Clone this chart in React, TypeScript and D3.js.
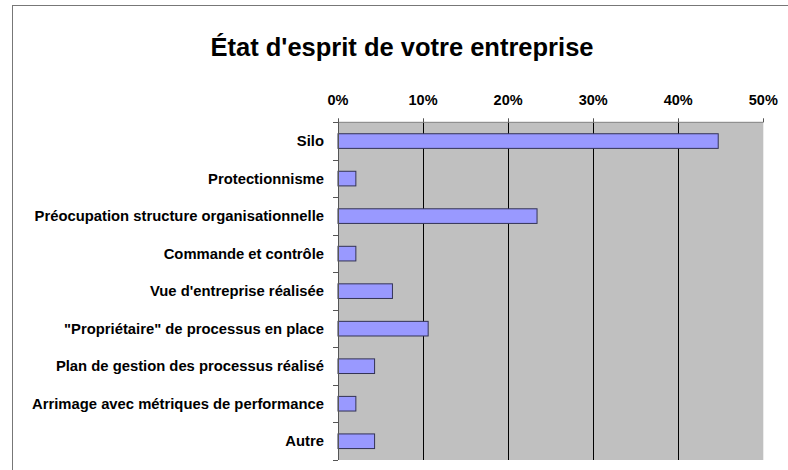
import React from "react";
import * as d3 from "d3";

const categories = [
  "Silo",
  "Protectionnisme",
  "Préocupation structure organisationnelle",
  "Commande et contrôle",
  "Vue d'entreprise réalisée",
  "\"Propriétaire\" de processus en place",
  "Plan de gestion des processus réalisé",
  "Arrimage avec métriques de performance",
  "Autre",
];
const values = [0.447, 0.021, 0.234, 0.021, 0.064, 0.106, 0.043, 0.021, 0.043];
const xTicks = [0, 0.1, 0.2, 0.3, 0.4, 0.5];
const title = "État d'esprit de votre entreprise";

const W = 788;
const H = 470;
const plot = { left: 338, right: 763.3, top: 122.3, bottom: 460 };
const FONT = "'Liberation Sans', Arial, sans-serif";

export default function App() {
  const x = d3.scaleLinear().domain([0, 0.5]).range([plot.left, plot.right]);
  const y = d3
    .scaleBand<string>()
    .domain(categories)
    .range([plot.top, plot.bottom])
    .paddingInner(0.61)
    .paddingOuter(0.305);
  const step = y.step();
  const fmt = d3.format(".0%");

  return (
    <svg
      width={W}
      height={H}
      style={{ position: "absolute", left: 0, top: 0, background: "#fff", overflow: "hidden" }}
      fontFamily={FONT}
    >
      <rect x={12.5} y={5.5} width={W + 200} height={H + 200} fill="#fff" stroke="#777" strokeWidth={1} />
      <text
        x={402}
        y={56}
        textAnchor="middle"
        fontSize={25.5}
        fontWeight="bold"
        fill="#000"
      >
        {title}
      </text>
      <rect
        x={plot.left}
        y={plot.top}
        width={plot.right - plot.left}
        height={plot.bottom - plot.top}
        fill="#c0c0c0"
      />
      {xTicks.slice(1, -1).map((t) => (
        <line
          key={"g" + t}
          x1={Math.round(x(t)) + 0.5}
          x2={Math.round(x(t)) + 0.5}
          y1={plot.top}
          y2={plot.bottom}
          stroke="#000"
          strokeWidth={1}
        />
      ))}
      {categories.map((c, i) => (
        <rect
          key={"b" + c}
          x={x(0)}
          y={y(c)!}
          width={x(values[i]) - x(0)}
          height={y.bandwidth()}
          fill="#9999ff"
          stroke="#333355"
          strokeWidth={1}
        />
      ))}
      <line x1={plot.left} x2={plot.right} y1={plot.top} y2={plot.top} stroke="#808080" />
      {xTicks.map((t) => (
        <g key={"t" + t}>
          <line
            x1={Math.round(x(t)) + 0.5}
            x2={Math.round(x(t)) + 0.5}
            y1={plot.top}
            y2={plot.top - 4}
            stroke="#555"
          />
          <text
            x={x(t)}
            y={105}
            textAnchor="middle"
            fontSize={14.5}
            fontWeight="bold"
            fill="#000"
          >
            {fmt(t)}
          </text>
        </g>
      ))}
      <line x1={plot.left + 0.5} x2={plot.left + 0.5} y1={plot.top} y2={plot.bottom} stroke="#555" />
      {d3.range(categories.length + 1).map((i) => (
        <line
          key={"yt" + i}
          x1={plot.left - 5}
          x2={plot.left}
          y1={Math.round(plot.top + i * step) + 0.5}
          y2={Math.round(plot.top + i * step) + 0.5}
          stroke="#555"
        />
      ))}
      {categories.map((c) => (
        <text
          key={"l" + c}
          x={324}
          y={y(c)! + y.bandwidth() / 2}
          dy="0.35em"
          textAnchor="end"
          fontSize={14.8}
          fontWeight="bold"
          fill="#000"
        >
          {c}
        </text>
      ))}
    </svg>
  );
}
